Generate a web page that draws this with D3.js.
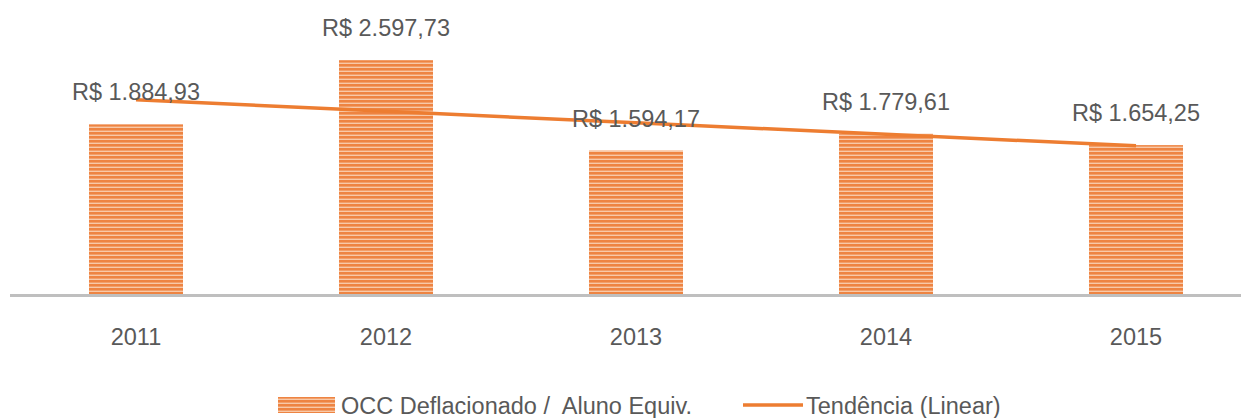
<!DOCTYPE html>
<html>
<head>
<meta charset="utf-8">
<script src="https://cdn.jsdelivr.net/npm/d3@7"></script>
<style>
  body { margin: 0; background: #fff; }
  svg { display: block; }
  text { font-family: "Liberation Sans", Arial, sans-serif; fill: #595959; white-space: pre; }
</style>
</head>
<body>
<div class="graph"></div>
<script>
const years = ['2011', '2012', '2013', '2014', '2015'];
const occValues = [1884.93, 2597.73, 1594.17, 1779.61, 1654.25];
const valueLabels = ['R$ 1.884,93', 'R$ 2.597,73', 'R$ 1.594,17', 'R$ 1.779,61', 'R$ 1.654,25'];
const legendLabels = ['OCC Deflacionado /  Aluno Equiv.', 'Tendência (Linear)'];

const svgDim = { w: 1241, h: 418 };
const orange = '#ED7D31';

const svg = d3.select('.graph').append('svg')
    .attr('width', svgDim.w).attr('height', svgDim.h);

// striped fill like Excel's "narrow horizontal" pattern
const pat = svg.append('defs').append('pattern')
    .attr('id', 'stripes')
    .attr('patternUnits', 'userSpaceOnUse')
    .attr('width', 10).attr('height', 4);
pat.append('rect').attr('width', 10).attr('height', 4).attr('fill', '#F8C9A8');
pat.append('rect').attr('width', 10).attr('height', 2.6).attr('fill', '#EE8442');

const xScale = d3.scaleBand()
    .domain(years)
    .range([11, 1261])
    .paddingInner(0.624)
    .paddingOuter(0.312);
const yScale = d3.scaleLinear()
    .domain([0, 3000])
    .range([294, 24]);

// bars
svg.selectAll('rect.bar')
    .data(occValues)
    .enter()
    .append('rect')
    .attr('class', 'bar')
    .attr('x', (d, i) => xScale(years[i]))
    .attr('y', d => yScale(d))
    .attr('width', xScale.bandwidth())
    .attr('height', d => yScale(0) - yScale(d))
    .attr('fill', 'url(#stripes)');

// category axis
const xAxis = d3.axisBottom(xScale).tickSize(0).tickPadding(0);
const gx = svg.append('g').attr('transform', 'translate(0,296)').call(xAxis);
gx.select('.domain').remove();
gx.selectAll('text')
    .attr('dy', null)
    .attr('y', 49)
    .style('font-size', '23.5px')
    .style('font-family', '"Liberation Sans", Arial, sans-serif')
    .attr('fill', '#595959');
svg.append('line')
    .attr('x1', 10).attr('x2', svgDim.w)
    .attr('y1', 295.5).attr('y2', 295.5)
    .attr('stroke', '#BFBFBF').attr('stroke-width', 3);

// linear trend (least squares on the bar values)
const xs = occValues.map((d, i) => i + 1);
const mx = d3.mean(xs), my = d3.mean(occValues);
const slope = d3.sum(xs, (x, i) => (x - mx) * (occValues[i] - my)) / d3.sum(xs, x => (x - mx) ** 2);
const trend = xs.map(x => my + slope * (x - mx));
const cx = y => xScale(y) + xScale.bandwidth() / 2;

svg.append('path')
    .datum(trend)
    .attr('fill', 'none')
    .attr('stroke', orange)
    .attr('stroke-width', 3.5)
    .attr('d', d3.line().x((d, i) => cx(years[i])).y(d => yScale(d)));

// value labels
svg.selectAll('text.val')
    .data(occValues)
    .enter()
    .append('text')
    .attr('class', 'val')
    .attr('x', (d, i) => cx(years[i]))
    .attr('y', d => yScale(d) - 24)
    .attr('text-anchor', 'middle')
    .style('font-size', '23.5px')
    .text((d, i) => valueLabels[i]);

// legend
const leg = svg.append('g');
leg.append('rect').attr('x', 278).attr('y', 397).attr('width', 57).attr('height', 16)
    .attr('fill', 'url(#stripes)');
leg.append('text').attr('x', 341).attr('y', 414).style('font-size', '23.5px').text(legendLabels[0]);
leg.append('line').attr('x1', 743).attr('x2', 803).attr('y1', 405).attr('y2', 405)
    .attr('stroke', orange).attr('stroke-width', 3.5);
leg.append('text').attr('x', 806).attr('y', 414).style('font-size', '23.5px').text(legendLabels[1]);
</script>
</body>
</html>
